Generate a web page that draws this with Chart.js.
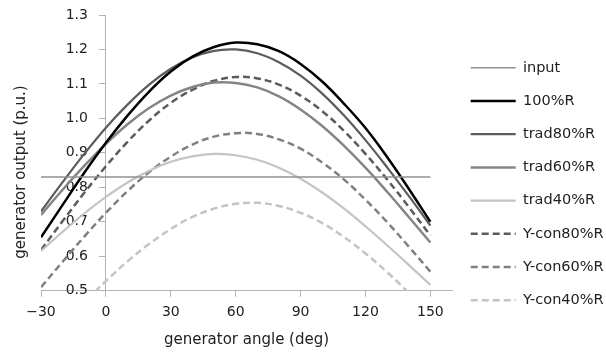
<!DOCTYPE html>
<html>
<head>
<meta charset="utf-8">
<script src="https://cdn.jsdelivr.net/npm/chart.js@4/dist/chart.umd.min.js"></script>
<style>
  body { margin: 0; background: #fff; }
</style>
</head>
<body>
<canvas id="genChart" width="606" height="353"></canvas>
<script>

// generator angle (deg), every 10 deg
const angles = [-30, -20, -10, 0, 10, 20, 30, 40, 50, 60, 70, 80, 90, 100, 110, 120, 130, 140, 150]

const inputLevel = 0.83
const full100R = [0.655, 0.749, 0.842, 0.929, 1.008, 1.078, 1.136, 1.179, 1.207, 1.220, 1.215, 1.195, 1.158, 1.107, 1.043, 0.972, 0.888, 0.796, 0.700]
const trad80R = [0.730, 0.815, 0.897, 0.973, 1.040, 1.098, 1.144, 1.177, 1.196, 1.200, 1.189, 1.163, 1.124, 1.072, 1.009, 0.937, 0.858, 0.775, 0.689]
const trad60R = [0.720, 0.793, 0.862, 0.926, 0.983, 1.030, 1.066, 1.091, 1.104, 1.103, 1.090, 1.064, 1.026, 0.978, 0.921, 0.857, 0.787, 0.714, 0.640]
const trad40R = [0.615, 0.671, 0.724, 0.772, 0.814, 0.848, 0.874, 0.890, 0.897, 0.893, 0.880, 0.857, 0.825, 0.785, 0.739, 0.687, 0.632, 0.575, 0.517]
const ycon80R = [0.618, 0.702, 0.784, 0.861, 0.932, 0.994, 1.045, 1.083, 1.109, 1.120, 1.116, 1.098, 1.066, 1.021, 0.964, 0.897, 0.823, 0.743, 0.660]
const ycon60R = [0.510, 0.584, 0.657, 0.726, 0.789, 0.844, 0.889, 0.924, 0.947, 0.957, 0.955, 0.939, 0.912, 0.872, 0.823, 0.764, 0.699, 0.628, 0.555]
const ycon40R = [0.338, 0.402, 0.466, 0.528, 0.585, 0.636, 0.679, 0.714, 0.738, 0.752, 0.755, 0.746, 0.726, 0.696, 0.656, 0.608, 0.554, 0.494, 0.430]

const xTicks = [-30, 0, 30, 60, 90, 120, 150]
const yTicks = [0.5, 0.6, 0.7, 0.8, 0.9, 1.0, 1.1, 1.2, 1.3]

const toPts = arr => arr.map((v, i) => ({ x: angles[i], y: v }))

const axisGray = '#b4b4b4'
const dash = [7, 4]

Chart.defaults.font.family = '"DejaVu Sans", sans-serif'
Chart.defaults.color = '#222'

// y title sits left of the plot, not on the x=0 axis, so draw it by hand
const yTitle = {
  id: 'yTitle',
  afterDraw: chart => {
    const c = chart.ctx
    c.save()
    c.translate(21, 172)
    c.rotate(-Math.PI / 2)
    c.font = '15px "DejaVu Sans"'
    c.fillStyle = '#222'
    c.textAlign = 'center'
    c.textBaseline = 'middle'
    c.fillText('generator output (p.u.)', 0, 0)
    c.restore()
  }
}

const line = (label, data, color, width, dashed) => ({
  label: label,
  data: toPts(data),
  borderColor: color,
  backgroundColor: color,
  borderWidth: width,
  borderDash: dashed ? dash : [],
  pointRadius: 0,
  tension: 0.4,
  fill: false
})

const setYTicks = axis => { axis.ticks = yTicks.map(v => ({ value: v })) }

// legend samples take dash / width from the dataset, not from its points
const legendItems = chart => {
  const items = Chart.defaults.plugins.legend.labels.generateLabels(chart)
  items.forEach(it => {
    const ds = chart.data.datasets[it.datasetIndex]
    it.lineDash = ds.borderDash || []
    it.lineWidth = ds.borderWidth
    it.strokeStyle = ds.borderColor
  })
  return items
}

const ctx = document.getElementById('genChart').getContext('2d')
const genChart = new Chart(ctx, {
  type: 'line',
  data: {
    datasets: [
      {
        label: 'input',
        data: [{ x: angles[0], y: inputLevel }, { x: angles[angles.length - 1], y: inputLevel }],
        borderColor: '#909090', backgroundColor: '#909090', borderWidth: 1.5,
        pointRadius: 0, tension: 0, fill: false
      },
      line('100%R', full100R, '#000000', 2.5, false),
      line('trad80%R', trad80R, '#5c5c5c', 2.2, false),
      line('trad60%R', trad60R, '#858585', 2.5, false),
      line('trad40%R', trad40R, '#c4c4c4', 2.2, false),
      line('Y-con80%R', ycon80R, '#5c5c5c', 2.5, true),
      line('Y-con60%R', ycon60R, '#808080', 2.5, true),
      line('Y-con40%R', ycon40R, '#c4c4c4', 2.5, true)
    ]
  },
  options: {
    responsive: false,
    animation: false,
    layout: { padding: { left: 41, top: 15, right: 0, bottom: 0 } },
    plugins: {
      tooltip: { enabled: false },
      legend: {
        position: 'right',
        maxWidth: 154,
        labels: {
          usePointStyle: true,
          pointStyle: 'line',
          pointStyleWidth: 45,
          padding: 18.7,
          font: { size: 14.5 },
          color: '#222',
          generateLabels: legendItems
        }
      }
    },
    scales: {
      x: {
        type: 'linear',
        min: -30,
        max: 160,
        afterBuildTicks: axis => { axis.ticks = xTicks.map(v => ({ value: v })) },
        ticks: {
          font: { size: 14 },
          padding: 7.5,
          maxRotation: 0,
          callback: v => String(v).replace('-', '\u2212')
        },
        grid: { drawOnChartArea: false, drawTicks: true, tickLength: 6, color: axisGray },
        border: { color: axisGray, width: 1 },
        title: { display: true, text: 'generator angle (deg)', font: { size: 15 }, padding: { top: 2.5, bottom: 4 } }
      },
      // axis line and tick marks at x = 0
      y: {
        type: 'linear',
        position: { x: 0 },
        min: 0.5,
        max: 1.3,
        afterBuildTicks: setYTicks,
        ticks: { display: false },
        grid: { drawOnChartArea: false, drawTicks: true, tickLength: 6, color: axisGray },
        border: { color: axisGray, width: 1 }
      },
      // labels only, shifted left of the x = 0 axis
      yLab: {
        type: 'linear',
        position: { x: -8.3 },
        min: 0.5,
        max: 1.3,
        afterBuildTicks: setYTicks,
        ticks: { font: { size: 14 } },
        grid: { display: false },
        border: { display: false }
      }
    }
  },
  plugins: [yTitle]
})
</script>
</body>
</html>
